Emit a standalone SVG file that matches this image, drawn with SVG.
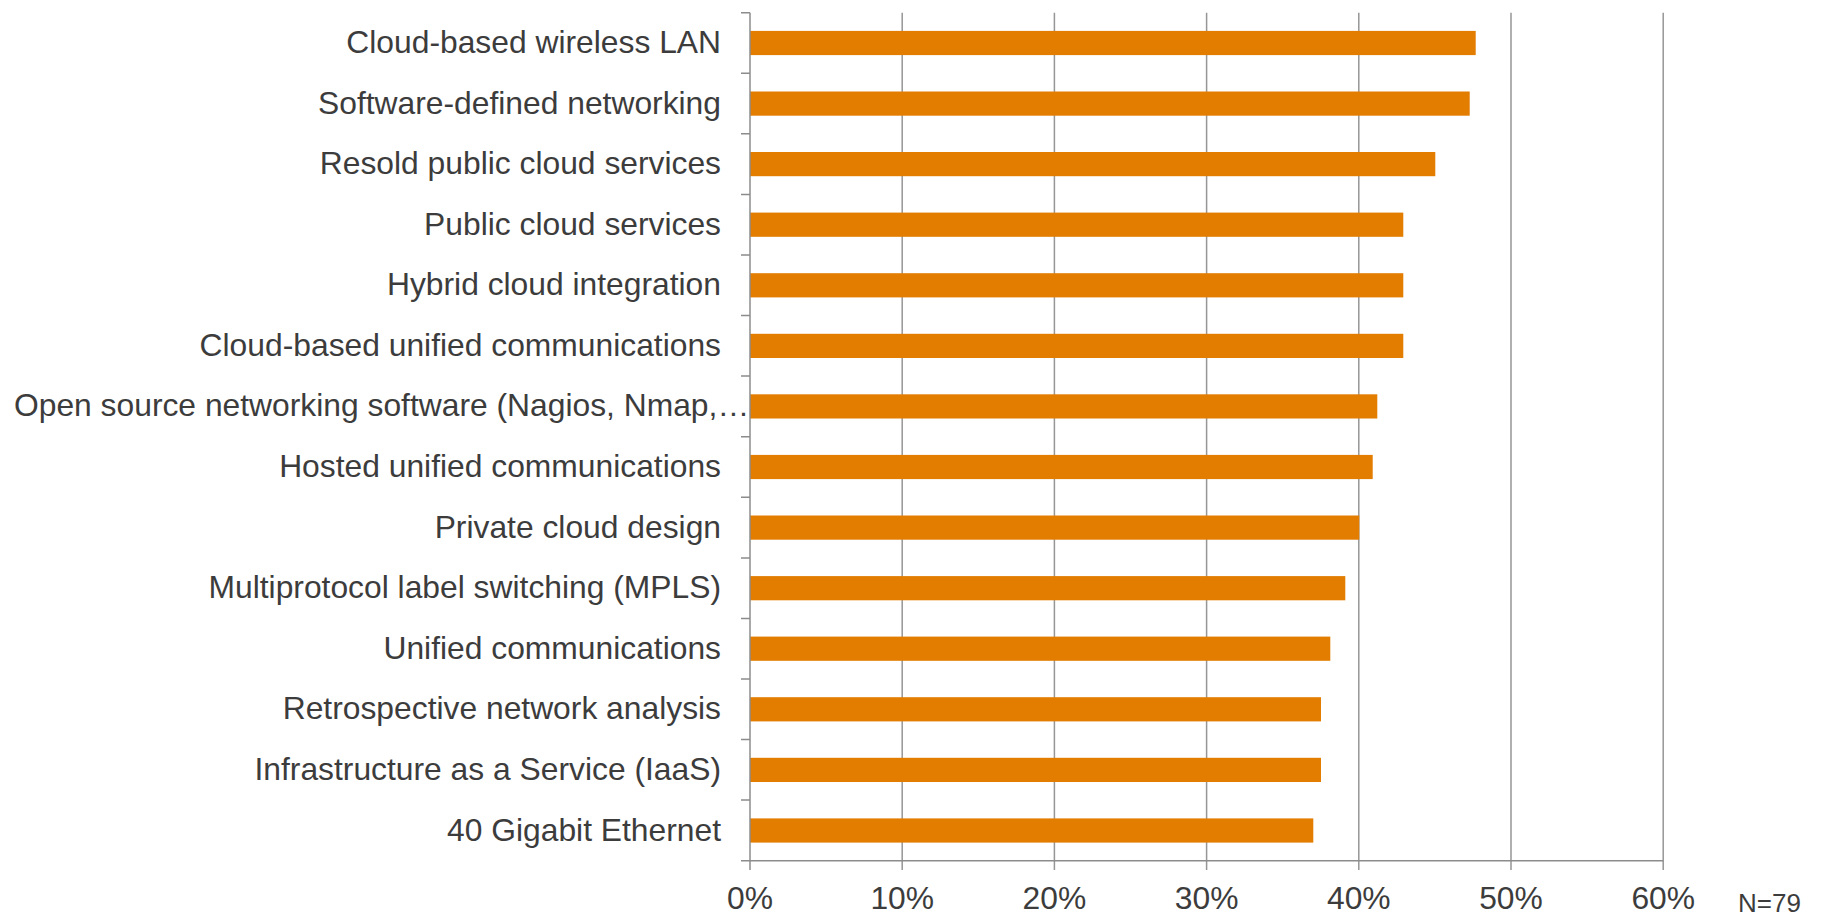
<svg xmlns="http://www.w3.org/2000/svg" width="1830" height="916" viewBox="0 0 1830 916">
  <style>
    .grid { stroke: #969696; stroke-width: 1.5; fill: none; }
    .axis { stroke: #8c8c8c; stroke-width: 1.5; fill: none; }
    .bar { fill: #e27d00; }
    .cat { font-family: "Liberation Sans", Arial, sans-serif; font-size: 31.8px; fill: #3c3c3c; text-anchor: end; }
    .tick { font-family: "Liberation Sans", Arial, sans-serif; font-size: 31.8px; fill: #3c3c3c; text-anchor: middle; }
    .note { font-family: "Liberation Sans", Arial, sans-serif; font-size: 26px; fill: #3c3c3c; }
  </style>

  <!-- vertical gridlines at 10%..60% -->
  <g id="gridlines">
    <line class="grid" x1="902.2" y1="12.7" x2="902.2" y2="870"/>
    <line class="grid" x1="1054.4" y1="12.7" x2="1054.4" y2="870"/>
    <line class="grid" x1="1206.6" y1="12.7" x2="1206.6" y2="870"/>
    <line class="grid" x1="1358.8" y1="12.7" x2="1358.8" y2="870"/>
    <line class="grid" x1="1511" y1="12.7" x2="1511" y2="870"/>
    <line class="grid" x1="1663.2" y1="12.7" x2="1663.2" y2="870"/>
  </g>

  <!-- bars -->
  <g id="bars">
    <rect class="bar" x="750" y="30.9" width="725.7" height="24.2"/>
    <rect class="bar" x="750" y="91.5" width="719.7" height="24.2"/>
    <rect class="bar" x="750" y="152.0" width="685.3" height="24.2"/>
    <rect class="bar" x="750" y="212.6" width="653.3" height="24.2"/>
    <rect class="bar" x="750" y="273.2" width="653.3" height="24.2"/>
    <rect class="bar" x="750" y="333.8" width="653.3" height="24.2"/>
    <rect class="bar" x="750" y="394.3" width="627.3" height="24.2"/>
    <rect class="bar" x="750" y="454.9" width="622.7" height="24.2"/>
    <rect class="bar" x="750" y="515.5" width="609.3" height="24.2"/>
    <rect class="bar" x="750" y="576.1" width="595.3" height="24.2"/>
    <rect class="bar" x="750" y="636.6" width="580.3" height="24.2"/>
    <rect class="bar" x="750" y="697.2" width="571" height="24.2"/>
    <rect class="bar" x="750" y="757.8" width="571" height="24.2"/>
    <rect class="bar" x="750" y="818.4" width="563.3" height="24.2"/>
  </g>

  <!-- axes with tick marks -->
  <g id="axes">
    <line class="axis" x1="750" y1="12.7" x2="750" y2="870"/>
    <line class="axis" x1="741" y1="860.7" x2="1663.2" y2="860.7"/>
    <path class="axis" d="M741 12.7H750M741 73.3H750M741 133.8H750M741 194.4H750M741 255H750M741 315.6H750M741 376.1H750M741 436.7H750M741 497.3H750M741 557.9H750M741 618.4H750M741 679H750M741 739.6H750M741 800.1H750"/>
  </g>

  <!-- category labels -->
  <g id="labels">
    <text class="cat" x="721" y="53">Cloud-based wireless LAN</text>
    <text class="cat" x="721" y="113.6">Software-defined networking</text>
    <text class="cat" x="721" y="174.1">Resold public cloud services</text>
    <text class="cat" x="721" y="234.7">Public cloud services</text>
    <text class="cat" x="721" y="295.3">Hybrid cloud integration</text>
    <text class="cat" x="721" y="355.9">Cloud-based unified communications</text>
    <text class="cat" x="14" y="416.4" style="text-anchor:start">Open source networking software (Nagios, Nmap,…</text>
    <text class="cat" x="721" y="477">Hosted unified communications</text>
    <text class="cat" x="721" y="537.6">Private cloud design</text>
    <text class="cat" x="721" y="598.2">Multiprotocol label switching (MPLS)</text>
    <text class="cat" x="721" y="658.7">Unified communications</text>
    <text class="cat" x="721" y="719.3">Retrospective network analysis</text>
    <text class="cat" x="721" y="779.9">Infrastructure as a Service (IaaS)</text>
    <text class="cat" x="721" y="840.5">40 Gigabit Ethernet</text>
  </g>

  <!-- value axis labels -->
  <g id="value-labels">
    <text class="tick" x="750" y="909">0%</text>
    <text class="tick" x="902.2" y="909">10%</text>
    <text class="tick" x="1054.4" y="909">20%</text>
    <text class="tick" x="1206.6" y="909">30%</text>
    <text class="tick" x="1358.8" y="909">40%</text>
    <text class="tick" x="1511" y="909">50%</text>
    <text class="tick" x="1663.2" y="909">60%</text>
    <text class="note" x="1738" y="912">N=79</text>
  </g>
</svg>
